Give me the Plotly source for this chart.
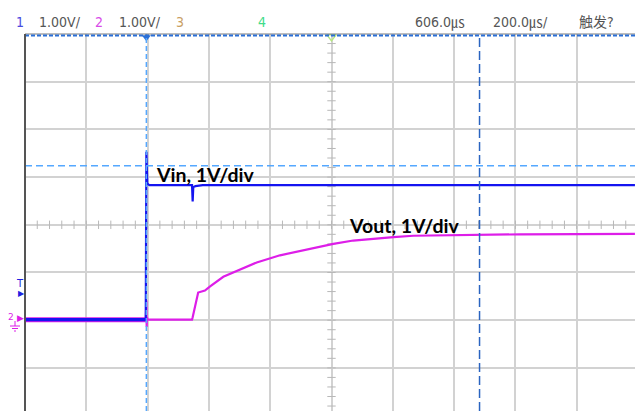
import numpy as np
import plotly.graph_objects as go

# ---------------- data (time in µs from left edge of screen, volts) ----------------
vin_t = [0, 394, 396, 397, 399, 402, 406, 545, 547, 549, 556, 580, 1990]
vin_v = [0, 0, 3.52, 2.95, 2.86, 2.84, 2.82, 2.82, 2.48, 2.78, 2.80, 2.82, 2.82]

vout_t = [0, 394, 396, 397, 398, 400, 545, 547, 565, 587, 604, 647, 702, 756, 832,
          887, 941, 1006, 1071, 1136, 1202, 1267, 1354, 1474, 1615, 1990]
vout_v = [0, 0, 0.40, -0.15, 0.05, 0, 0, 0.05, 0.57, 0.61, 0.70, 0.90, 1.06, 1.20, 1.35,
          1.43, 1.50, 1.59, 1.66, 1.70, 1.73, 1.76, 1.77, 1.78, 1.79, 1.80]

TRIGGER_T = 396        # µs
TRIGGER_LEVEL_V = 3.23  # V on CH1
CURSOR_T = 1483        # µs
CH_OFFSET_DIV = -1.99  # ground position of both channels, in divisions
VOLTS_PER_DIV = 1.0
US_PER_DIV = 200

header_items = [
    ("1", "#4a4ae0"), ("1.00V/", "#555555"), ("2", "#d84ae8"), ("1.00V/", "#555555"),
    ("3", "#c9a064"), ("4", "#3fdc8a"), ("606.0㎲", "#555555"), ("200.0㎲/", "#555555"),
    ("触发?", "#555555"),
]
header_px = [14, 36.5, 92.5, 116.5, 173.5, 255.5, 413, 490.5, 576.5]

# ---------------- geometry ----------------
W, H = 635, 411
ML, MT = 25, 34
PW, PH = W - ML, H - MT
X_MAX = 1990.2
Y_TOP, Y_BOT = 4.0, -3.904


def to_div(v):
    return [x / VOLTS_PER_DIV + CH_OFFSET_DIV for x in v]


def px_x(px):
    return (px - ML) / PW


def px_y(py):
    return (H - py) / PH


BLUE = "#1414f0"
MAGENTA = "#dd1ee8"
GRID = "#d2d2d2"

fig = go.Figure()

# minor ticks on the centre cross
cy = np.arange(-4, 4.01, 0.2)
fig.add_trace(go.Scatter(x=[5 * US_PER_DIV] * len(cy), y=cy, mode="markers",
                         marker=dict(symbol="line-ew", size=6, line=dict(color="#b8b8b8", width=1)),
                         hoverinfo="skip", showlegend=False))
cx = np.arange(0, 10 * US_PER_DIV + 1, US_PER_DIV / 5)
fig.add_trace(go.Scatter(x=cx, y=[0] * len(cx), mode="markers",
                         marker=dict(symbol="line-ns", size=6, line=dict(color="#b8b8b8", width=1)),
                         hoverinfo="skip", showlegend=False))

# traces
n_pre_out = sum(1 for t in vout_t if t <= TRIGGER_T - 2)
n_pre_in = sum(1 for t in vin_t if t <= TRIGGER_T - 2)
fig.add_trace(go.Scatter(x=vout_t[:n_pre_out], y=to_div(vout_v[:n_pre_out]), mode="lines",
                         line=dict(color=MAGENTA, width=5), hoverinfo="skip", showlegend=False))
fig.add_trace(go.Scatter(x=vout_t, y=to_div(vout_v), mode="lines",
                         line=dict(color=MAGENTA, width=2.2), hoverinfo="skip", showlegend=False))
fig.add_trace(go.Scatter(x=vin_t[:n_pre_in], y=to_div(vin_v[:n_pre_in]), mode="lines",
                         line=dict(color=BLUE, width=3.2), hoverinfo="skip", showlegend=False))
fig.add_trace(go.Scatter(x=vin_t, y=to_div(vin_v), mode="lines",
                         line=dict(color=BLUE, width=2.2), hoverinfo="skip", showlegend=False))

# top markers
fig.add_trace(go.Scatter(x=[TRIGGER_T], y=[3.93], mode="markers", cliponaxis=False,
                         marker=dict(symbol="triangle-down", size=8, color="#2a6fd6"),
                         hoverinfo="skip", showlegend=False))
fig.add_trace(go.Scatter(x=[5 * US_PER_DIV], y=[3.94], mode="markers", cliponaxis=False,
                         marker=dict(symbol="triangle-down-open", size=8,
                                     line=dict(color="#4a9af0", width=1.5)),
                         hoverinfo="skip", showlegend=False))

shapes = [
    # trigger level / position, cursor
    dict(type="line", xref="paper", x0=0, x1=1, yref="y",
         y0=TRIGGER_LEVEL_V + CH_OFFSET_DIV, y1=TRIGGER_LEVEL_V + CH_OFFSET_DIV,
         line=dict(color="#55a8ff", width=1.5, dash="7px,4px")),
    dict(type="line", xref="x", x0=TRIGGER_T, x1=TRIGGER_T, yref="paper", y0=0, y1=1,
         line=dict(color="#55a8ff", width=1.5, dash="5px,3px")),
    dict(type="line", xref="x", x0=CURSOR_T, x1=CURSOR_T, yref="paper", y0=0, y1=1,
         line=dict(color="#2a64c0", width=1.5, dash="9px,4px")),
    # frame
    dict(type="line", xref="paper", x0=0, x1=1, yref="paper", y0=1, y1=1,
         line=dict(color="#7a7a7a", width=1)),
    dict(type="line", xref="paper", x0=0, x1=1, yref="paper", y0=0.996, y1=0.996,
         line=dict(color="#2a6fd6", width=2, dash="4px,2px")),
    dict(type="line", xref="paper", x0=0, x1=0, yref="paper", y0=0, y1=1,
         line=dict(color="#555555", width=2)),
    # ground symbol
    dict(type="line", xref="paper", yref="paper", x0=px_x(15), x1=px_x(15), y0=px_y(321), y1=px_y(326),
         line=dict(color=MAGENTA, width=1)),
    dict(type="line", xref="paper", yref="paper", x0=px_x(10), x1=px_x(20), y0=px_y(326), y1=px_y(326),
         line=dict(color=MAGENTA, width=1)),
    dict(type="line", xref="paper", yref="paper", x0=px_x(12), x1=px_x(18), y0=px_y(328.5), y1=px_y(328.5),
         line=dict(color=MAGENTA, width=1)),
    dict(type="line", xref="paper", yref="paper", x0=px_x(14), x1=px_x(16), y0=px_y(331), y1=px_y(331),
         line=dict(color=MAGENTA, width=1)),
]

hfont = "Liberation Sans Narrow, DejaVu Sans Condensed, Arial Narrow, Noto Sans CJK SC, sans-serif"
annotations = []
for (txt, col), px in zip(header_items, header_px):
    annotations.append(dict(text=txt, xref="paper", yref="paper", x=px_x(px), y=px_y(22),
                            xanchor="left", yanchor="middle", showarrow=False,
                            font=dict(family=hfont, size=14, color=col)))

annotations += [
    dict(text="T", xref="paper", yref="paper", x=px_x(19.5), y=px_y(283), xanchor="center",
         yanchor="middle", showarrow=False, font=dict(family="DejaVu Sans", size=10, color="#2020e0")),
    dict(text="▶", xref="paper", yref="paper", x=px_x(21), y=px_y(293), xanchor="center",
         yanchor="middle", showarrow=False, font=dict(family="DejaVu Sans", size=8, color="#2020e0")),
    dict(text="2", xref="paper", yref="paper", x=px_x(11), y=px_y(317), xanchor="center",
         yanchor="middle", showarrow=False, font=dict(family="DejaVu Sans", size=9, color=MAGENTA)),
    dict(text="▶", xref="paper", yref="paper", x=px_x(20), y=px_y(318), xanchor="center",
         yanchor="middle", showarrow=False, font=dict(family="DejaVu Sans", size=9, color=MAGENTA)),
    dict(text="<b>Vin, 1V/div</b>", x=(154 - ML) / PW * X_MAX, y=(225 - 175) / 47.7,
         xanchor="left", yanchor="middle", showarrow=False,
         font=dict(family="Lato, Open Sans, sans-serif", size=19.5, color="black")),
    dict(text="<b>Vout, 1V/div</b>", x=(346.5 - ML) / PW * X_MAX, y=(225 - 226) / 47.7,
         xanchor="left", yanchor="middle", showarrow=False,
         font=dict(family="Lato, Open Sans, sans-serif", size=19.5, color="black")),
]

fig.update_layout(
    width=W, height=H, autosize=False,
    margin=dict(l=ML, r=0, t=MT, b=0, pad=0),
    paper_bgcolor="white", plot_bgcolor="white",
    shapes=shapes, annotations=annotations,
    xaxis=dict(range=[0, X_MAX], tick0=0, dtick=US_PER_DIV, showgrid=True, gridcolor=GRID,
               gridwidth=1.5, zeroline=False, showticklabels=False, ticks="", showline=False,
               fixedrange=True),
    yaxis=dict(range=[Y_BOT, Y_TOP], tick0=0, dtick=1, showgrid=True, gridcolor=GRID,
               gridwidth=1.5, zeroline=False, showticklabels=False, ticks="", showline=False,
               fixedrange=True),
)

fig.write_html("out.html", config={"displayModeBar": False},
               post_script="document.body.style.margin='0';document.body.style.padding='0';"
                           "document.body.style.overflow='hidden';")
